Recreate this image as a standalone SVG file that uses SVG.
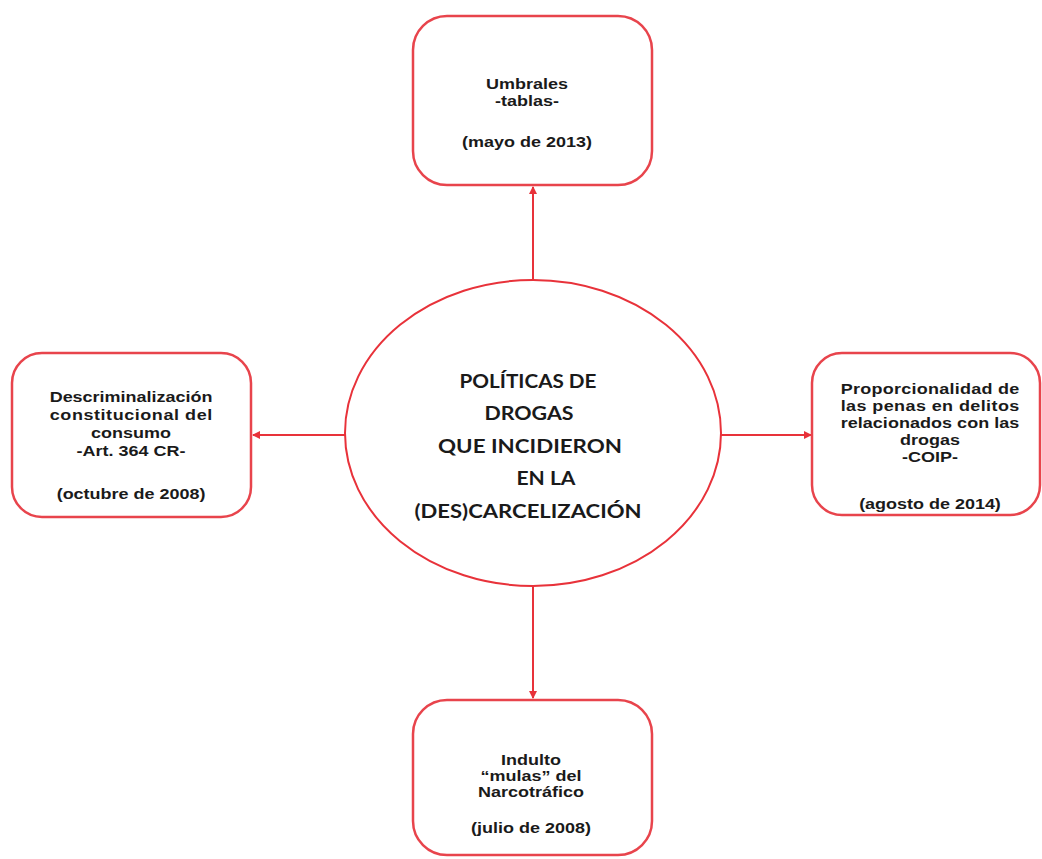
<svg xmlns="http://www.w3.org/2000/svg" width="1042" height="859" viewBox="0 0 1042 859">
<style>
.box{fill:#ffffff;stroke:#e8444c;stroke-width:2.5}
.ell{fill:#ffffff;stroke:#e8323a;stroke-width:2}
.con{stroke:#e8323a;stroke-width:2;fill:none}
.t{font-family:"Liberation Sans",Arial,sans-serif;font-weight:bold;font-size:15.5px;fill:#1a1a1a;text-anchor:middle}
.c{font-family:Lato,"Open Sans",sans-serif;font-weight:bold;font-size:18.5px;fill:#1a1a1a;text-anchor:middle}
</style>
<defs>
<marker id="arr" viewBox="0 0 8 8" refX="7" refY="4" markerWidth="4" markerHeight="4" orient="auto" markerUnits="strokeWidth">
<path d="M0,0 L8,4 L0,8 z" fill="#e8323a"/>
</marker>
</defs>
<rect width="1042" height="859" fill="#ffffff"/>
<g id="connectors">
<line class="con" x1="533" y1="281" x2="533" y2="187" marker-end="url(#arr)"/>
<line class="con" x1="346" y1="435" x2="253" y2="435" marker-end="url(#arr)"/>
<line class="con" x1="720" y1="435" x2="811" y2="435" marker-end="url(#arr)"/>
<line class="con" x1="533" y1="586" x2="533" y2="698" marker-end="url(#arr)"/>
</g>
<g id="center">
<ellipse class="ell" cx="533" cy="433" rx="188" ry="153"/>
<text class="c" x="528" y="388" textLength="137" lengthAdjust="spacingAndGlyphs">POLÍTICAS DE</text>
<text class="c" x="529" y="420" textLength="89" lengthAdjust="spacingAndGlyphs">DROGAS</text>
<text class="c" x="530" y="453" textLength="184" lengthAdjust="spacingAndGlyphs">QUE INCIDIERON</text>
<text class="c" x="546" y="485" textLength="59" lengthAdjust="spacingAndGlyphs">EN LA</text>
<text class="c" x="528" y="518" textLength="227" lengthAdjust="spacingAndGlyphs">(DES)CARCELIZACIÓN</text>
</g>
<g id="umbrales">
<rect class="box" x="413" y="16" width="239" height="169" rx="34"/>
<g transform="translate(527,0) scale(1.16,1)">
<text class="t" x="0" y="89">Umbrales</text>
<text class="t" x="0" y="106">-tablas-</text>
<text class="t" x="0" y="147">(mayo de 2013)</text>
</g>
</g>
<g id="descriminalizacion">
<rect class="box" x="12" y="353" width="239" height="164" rx="30"/>
<g transform="translate(131,0) scale(1.16,1)">
<text class="t" x="0" y="402">Descriminalización</text>
<text class="t" x="0" y="420" textLength="140" lengthAdjust="spacing">constitucional del</text>
<text class="t" x="0" y="438">consumo</text>
<text class="t" x="0" y="456">-Art. 364 CR-</text>
<text class="t" x="0" y="499">(octubre de 2008)</text>
</g>
</g>
<g id="proporcionalidad">
<rect class="box" x="812" y="353" width="228" height="162" rx="30"/>
<g transform="translate(930,0) scale(1.16,1)">
<text class="t" x="0" y="394" textLength="154" lengthAdjust="spacing">Proporcionalidad de</text>
<text class="t" x="0" y="411" textLength="154" lengthAdjust="spacing">las penas en delitos</text>
<text class="t" x="0" y="428" textLength="154" lengthAdjust="spacing">relacionados con las</text>
<text class="t" x="0" y="445">drogas</text>
<text class="t" x="0" y="462">-COIP-</text>
<text class="t" x="0" y="509">(agosto de 2014)</text>
</g>
</g>
<g id="indulto">
<rect class="box" x="413" y="700" width="239" height="155" rx="34"/>
<g transform="translate(531,0) scale(1.16,1)">
<text class="t" x="0" y="765">Indulto</text>
<text class="t" x="0" y="781">“mulas” del</text>
<text class="t" x="0" y="797">Narcotráfico</text>
<text class="t" x="0" y="833">(julio de 2008)</text>
</g>
</g>
</svg>
